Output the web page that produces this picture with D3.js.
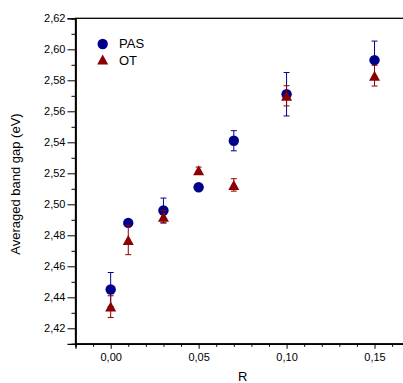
<!DOCTYPE html>
<html>
<head>
<meta charset="utf-8">
<script src="https://cdn.jsdelivr.net/npm/d3@7"></script>
<style>
  html, body { margin: 0; padding: 0; background: #fff; }
  svg { display: block; font-family: "Liberation Sans", Arial, sans-serif; }
</style>
</head>
<body>
<svg id="chart" width="403" height="383"></svg>
<script>
// ---- data ----
const rValues   = [0.00, 0.01, 0.03, 0.05, 0.07, 0.10, 0.15];
const pasValues = [2.445, 2.488, 2.496, 2.511, 2.541, 2.571, 2.593];
const pasErrors = [0.011, 0.002, 0.008, 0.001, 0.0065, 0.014, 0.0123];
const otValues  = [2.434, 2.477, 2.492, 2.522, 2.5125, 2.570, 2.583];
const otErrors  = [0.007, 0.0095, 0.004, 0.002, 0.004, 0.0065, 0.0067];
const xMajorTicks = [0.00, 0.05, 0.10, 0.15];
const xMinorTicks = [-0.02, -0.01, 0.01, 0.02, 0.03, 0.04, 0.06, 0.07, 0.08, 0.09, 0.11, 0.12, 0.13, 0.14, 0.16, 0.17];
const yMajorTicks = [2.42, 2.44, 2.46, 2.48, 2.50, 2.52, 2.54, 2.56, 2.58, 2.60, 2.62];
const yMinorTicks = [2.41, 2.43, 2.45, 2.47, 2.49, 2.51, 2.53, 2.55, 2.57, 2.59, 2.61];
const seriesNames = ["PAS", "OT"];
const xTitle = "R";
const yTitle = "Averaged band gap (eV)";

// ---- layout ----
const svg = d3.select("#chart");
const pLeft = 75.5, pRight = 409.7, pTop = 18.3, pBottom = 343.8;
const x = d3.scaleLinear().domain([-0.02, 0.17]).range([pLeft, pRight]);
const y = d3.scaleLinear().domain([2.41, 2.62]).range([pBottom, pTop]);
const navy = "#00008b", wine = "#8b0000";

const loc = d3.formatLocale({decimal: ",", thousands: ".", grouping: [3], currency: ["", ""]});
const fmt = loc.format(".2f");

// frame
svg.append("rect").attr("x", pLeft).attr("y", pTop)
  .attr("width", pRight - pLeft).attr("height", pBottom - pTop)
  .attr("fill", "none").attr("stroke", "#000").attr("stroke-width", 1.3);

// axes
function styleAxis(g) {
  g.select(".domain").attr("stroke", "#000").attr("stroke-width", 1.3);
  g.selectAll(".tick line").attr("stroke", "#000").attr("stroke-width", 1);
  g.selectAll(".tick text").attr("fill", "#000").style("font-size", "11px")
    .style("font-family", "'Liberation Sans', Arial, sans-serif");
}
svg.append("g").attr("transform", `translate(0,${pBottom})`)
  .call(d3.axisBottom(x).tickValues(xMinorTicks).tickSize(3).tickFormat(""))
  .call(styleAxis);
svg.append("g").attr("transform", `translate(0,${pBottom})`)
  .call(d3.axisBottom(x).tickValues(xMajorTicks).tickSize(5).tickPadding(4).tickFormat(fmt))
  .call(styleAxis);
svg.append("g").attr("transform", `translate(${pLeft},0)`)
  .call(d3.axisLeft(y).tickValues(yMinorTicks).tickSize(4).tickFormat(""))
  .call(styleAxis);
svg.append("g").attr("transform", `translate(${pLeft},0)`)
  .call(d3.axisLeft(y).tickValues(yMajorTicks).tickSize(8).tickPadding(2).tickFormat(fmt))
  .call(styleAxis);

// titles
svg.append("text").attr("x", (pLeft + pRight) / 2).attr("y", 381)
  .attr("text-anchor", "middle").style("font-size", "13px").text(xTitle);
svg.append("text").attr("transform", `translate(20,${(pTop + pBottom) / 2 + 3}) rotate(-90)`)
  .attr("text-anchor", "middle").style("font-size", "13px").text(yTitle);

// series
const pas = rValues.map((r, i) => ({r, v: pasValues[i], e: pasErrors[i]}));
const ot  = rValues.map((r, i) => ({r, v: otValues[i], e: otErrors[i]}));

function errorBars(data, color) {
  const g = svg.append("g").attr("stroke", color).attr("stroke-width", 1).attr("fill", "none");
  data.forEach(d => {
    const cx = x(d.r), y1 = y(d.v + d.e), y2 = y(d.v - d.e);
    g.append("line").attr("x1", cx).attr("x2", cx).attr("y1", y1).attr("y2", y2);
    g.append("line").attr("x1", cx - 3).attr("x2", cx + 3).attr("y1", y1).attr("y2", y1);
    g.append("line").attr("x1", cx - 3).attr("x2", cx + 3).attr("y1", y2).attr("y2", y2);
  });
}
function triPath(cx, cy, w, h) {
  return `M${cx},${cy - h / 2}L${cx + w / 2},${cy + h / 2}L${cx - w / 2},${cy + h / 2}Z`;
}

errorBars(pas, navy);
svg.append("g").selectAll("circle").data(pas).join("circle")
  .attr("cx", d => x(d.r)).attr("cy", d => y(d.v)).attr("r", 5.2).attr("fill", navy);
errorBars(ot, wine);
svg.append("g").selectAll("path").data(ot).join("path")
  .attr("d", d => triPath(x(d.r), y(d.v), 11, 10)).attr("fill", wine);

// legend
svg.append("circle").attr("cx", 102.7).attr("cy", 44).attr("r", 5.2).attr("fill", navy);
svg.append("path").attr("d", triPath(102.7, 59.5, 11, 10)).attr("fill", wine);
svg.append("text").attr("x", 119).attr("y", 48).style("font-size", "13px").text(seriesNames[0]);
svg.append("text").attr("x", 119).attr("y", 65).style("font-size", "13px").text(seriesNames[1]);
</script>
</body>
</html>
